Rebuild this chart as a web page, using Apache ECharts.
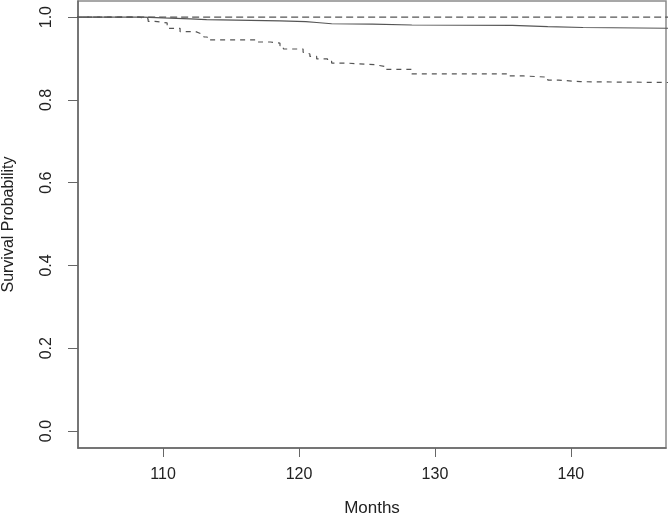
<!DOCTYPE html>
<html>
<head>
<meta charset="utf-8">
<script src="https://cdn.jsdelivr.net/npm/echarts@6/dist/echarts.min.js"></script>
<style>
  html, body { margin: 0; padding: 0; background: #fff; }
  #chart { width: 669px; height: 515px; }
</style>
</head>
<body>
<div id="chart"></div>
<script>
// months where the curves step, and survival after each step
const upperTimes = [100, 147.5];
const upperSurv = [1.0, 1.0];

const solidTimes = [100, 108.5, 110.0, 112.0, 113.2, 118.6, 120.5, 121.3, 122.4, 125.4, 128.3, 135.7, 138.3, 140.9, 147.5];
const solidSurv = [1.0, 0.998, 0.996, 0.994, 0.991, 0.989, 0.987, 0.984, 0.983, 0.981, 0.980, 0.977, 0.975, 0.973, 0.973];

const lowerTimes = [100, 108.2, 108.9, 109.4, 110.3, 111.25, 112.4, 112.7, 113.0, 113.25, 116.9, 117.9, 118.6, 118.85,
  120.3, 120.5, 120.8, 121.3, 122.1, 122.4, 123.5, 125.6, 126.3, 128.3, 135.4, 136.5, 138.3, 139.1, 140.7, 147.5];
const lowerSurv = [1.0, 0.996, 0.990, 0.986, 0.973, 0.965, 0.961, 0.957, 0.952, 0.945, 0.940, 0.937, 0.931, 0.923,
  0.915, 0.911, 0.905, 0.899, 0.894, 0.889, 0.885, 0.881, 0.874, 0.863, 0.858, 0.855, 0.848, 0.844, 0.842, 0.842];

const xTicks = [110, 120, 130, 140];
const yTicks = [0, 0.2, 0.4, 0.6, 0.8, 1.0];

const pairs = (xs, ys) => xs.map((x, i) => [x, ys[i]]);

const chart = echarts.init(document.getElementById('chart'));

const lineColor = '#555';
const font = 'Liberation Sans, Arial, sans-serif';

chart.setOption({
  animation: false,
  backgroundColor: '#fff',
  grid: {
    left: 78,
    right: 3,
    top: 1,
    bottom: 67,
    outerBoundsMode: 'none',
    containLabel: false,
    show: true,
    borderColor: '#8a8a8a',
    borderWidth: 1.5
  },
  xAxis: {
    type: 'value',
    min: 103.74,
    max: 147.0,
    name: 'Months',
    nameLocation: 'middle',
    nameGap: 52,
    nameTextStyle: { fontFamily: font, fontSize: 17, color: '#222' },
    axisLine: { show: true, onZero: false, lineStyle: { color: '#666', width: 1.5 } },
    axisTick: { show: true, length: 9, customValues: xTicks, lineStyle: { color: '#666' } },
    axisLabel: { customValues: xTicks, margin: 19, fontFamily: font, fontSize: 16, color: '#222' },
    splitLine: { show: false }
  },
  yAxis: {
    type: 'value',
    min: -0.041,
    max: 1.039,
    name: 'Survival Probability',
    nameLocation: 'middle',
    nameGap: 61,
    nameTextStyle: { fontFamily: font, fontSize: 16, color: '#222' },
    axisLine: { show: true, onZero: false, lineStyle: { color: '#666', width: 1.5 } },
    axisTick: { show: true, length: 10, customValues: yTicks, lineStyle: { color: '#666' } },
    axisLabel: {
      customValues: yTicks,
      rotate: 90,
      margin: 23,
      fontFamily: font,
      fontSize: 16,
      color: '#222',
      formatter: v => v.toFixed(1)
    },
    splitLine: { show: false }
  },
  series: [
    {
      type: 'line',
      step: 'end',
      symbol: 'none',
      data: pairs(upperTimes, upperSurv),
      lineStyle: { color: lineColor, width: 1.2, type: [7, 4] }
    },
    {
      type: 'line',
      step: 'end',
      symbol: 'none',
      data: pairs(solidTimes, solidSurv),
      lineStyle: { color: lineColor, width: 1.2, type: 'solid' }
    },
    {
      type: 'line',
      step: 'end',
      symbol: 'none',
      data: pairs(lowerTimes, lowerSurv),
      lineStyle: { color: lineColor, width: 1.2, type: [5, 5] }
    }
  ]
});
</script>
</body>
</html>
